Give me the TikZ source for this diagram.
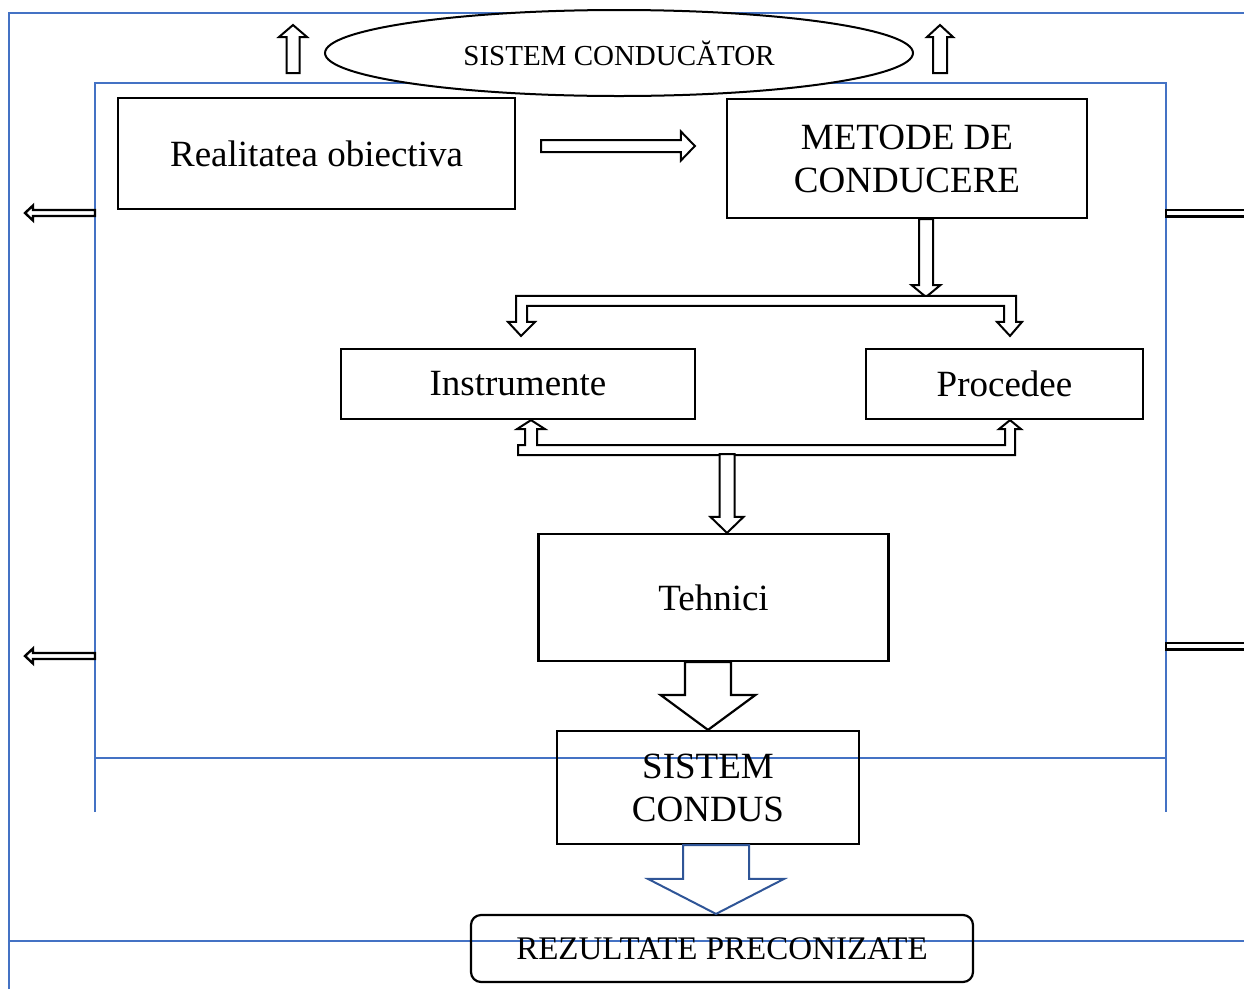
\documentclass[tikz,border=0pt]{standalone}
\usepackage{fontspec}
\setmainfont{Liberation Serif}
\usepackage{xcolor}
\usepackage{tikz}
\usetikzlibrary{calc, shapes.geometric}

\definecolor{frameblue}{HTML}{4472C4}
\definecolor{arrowblue}{HTML}{2F5597}

\newcommand{\blockarrow}[6][]{%
  \coordinate (ba_head) at ($(#3)!#6!(#2)$);
  \draw[#1] ($(#2)!#4!90:(#3)$) -- ($(ba_head)!#4!-90:(#2)$) -- ($(ba_head)!#5!-90:(#2)$)
    -- (#3) -- ($(ba_head)!#5!90:(#2)$) -- ($(ba_head)!#4!90:(#2)$) -- ($(#2)!#4!-90:(#3)$) -- cycle;
}

\begin{document}
\begin{tikzpicture}[x=1pt, y=-1pt]
            \tikzset{
                box_node/.style={draw, shape = rectangle, line width=2.2pt, inner sep=0pt, align=center, font=\fontsize{37}{43}\selectfont},
                oval_node/.style={draw, shape = ellipse, line width=2pt, fill=white, inner sep=0pt, font=\fontsize{29}{34}\selectfont},
                end_node/.style={box_node, rounded corners=10pt, font=\fontsize{33}{38}\selectfont},
                frame_line/.style={draw=frameblue, line width=1.4pt},
                hollow_arrow/.style={draw, line width=2pt, fill=white},
                blue_arrow/.style={draw=arrowblue, line width=2pt, fill=white}
            }
            \useasboundingbox (0,0) rectangle (1244,989);
            \draw[frame_line] (9,989) |- (1244,13);
            \draw[frame_line] (10,941) -- (1244,941);
            \draw[frame_line] (95,812) |- (1166,83) -- (1166,812);
            \draw[frame_line] (95,758) -- (1166,758);
            \node[oval_node, minimum width=588pt, minimum height=86pt] (cond) at (619,53) {SISTEM CONDUCĂTOR};
            \node[box_node, minimum width=397pt, minimum height=111pt] (real) at (316.5,153.5) {Realitatea obiectiva};
            \node[box_node, minimum width=360pt, minimum height=119pt] (metode) at (907,158.5) {METODE DE\\CONDUCERE};
            \node[box_node, minimum width=354pt, minimum height=70pt] (instr) at (518,384) {Instrumente};
            \node[box_node, minimum width=277pt, minimum height=70pt] (proc) at (1004.5,384) {Procedee};
            \node[box_node, minimum width=350pt, minimum height=127pt] (tehn) at (713.5,597.5) {Tehnici};
            \node[box_node, minimum width=302pt, minimum height=113pt] (condus) at (708,787.5) {SISTEM\\CONDUS};
            \node[end_node, minimum width=502pt, minimum height=67pt] (rez) at (722,948.5) {REZULTATE PRECONIZATE};
            \coordinate (upl_s) at (293,73);
            \coordinate (upl_e) at (293,25);
            \coordinate (upr_s) at (940,73);
            \coordinate (upr_e) at (940,25);
            \coordinate (ra_s) at ($(real.east)+(25,-7.5)$);
            \coordinate (ra_e) at ($(metode.west)+(-31,-12.5)$);
            \coordinate (ma_s) at ($(metode.south)+(19,0)$);
            \coordinate (split) at (926,297);
            \coordinate (ltip) at ($(instr.north)+(3,-12)$);
            \coordinate (lbase) at ($(instr.south)+(13,0)$);
            \coordinate (join) at (727,454);
            \coordinate (ta_e) at ($(tehn.north)+(13.5,0)$);
            \coordinate (tc_s) at ($(tehn.south)+(-5.5,0)$);
            \coordinate (cr_s) at ($(condus.south)+(8,0)$);
            \coordinate (cr_e) at ($(rez.north)+(-6,0)$);
            \coordinate (la1_s) at (95,213);
            \coordinate (la1_e) at (25,213);
            \coordinate (la2_s) at (95,656);
            \coordinate (la2_e) at (25,656);
            \blockarrow[hollow_arrow]{upl_s}{upl_e}{6.5pt}{14pt}{12pt}
            \blockarrow[hollow_arrow]{upr_s}{upr_e}{7pt}{13pt}{12pt}
            \blockarrow[hollow_arrow]{ra_s}{ra_e}{6pt}{14.5pt}{14pt}
            \blockarrow[hollow_arrow]{ma_s}{split}{7pt}{14.5pt}{12pt}
            \draw[hollow_arrow] (ltip) -- ++(14,-14) -- ++(-8,0) -- ++(0,-16) -- ++(477,0) -- ++(0,16) -- ++(-7,0) -- ++(13,14)
                -- ++(12,-14) -- ++(-6,0) -- ++(0,-26) -- ++(-500,0) -- ++(0,26) -- ++(-8,0) -- cycle;
            \draw[hollow_arrow] (lbase) -- ++(14,9) -- ++(-8,0) -- ++(0,16) -- ++(468,0) -- ++(0,-16) -- ++(-6,0) -- ++(11,-9)
                -- ++(11,9) -- ++(-6,0) -- ++(0,26) -- ++(-497,0) -- ++(0,-10) -- ++(7,0) -- ++(0,-16) -- ++(-8,0) -- cycle;
            \blockarrow[hollow_arrow]{join}{ta_e}{7.5pt}{16.5pt}{16pt}
            \blockarrow[hollow_arrow, line width=2.2pt]{tc_s}{condus.north}{23pt}{47.5pt}{35pt}
            \blockarrow[blue_arrow]{cr_s}{cr_e}{33pt}{68pt}{35pt}
            \blockarrow[hollow_arrow, line width=2.4pt]{la1_s}{la1_e}{3pt}{7.5pt}{8pt}
            \blockarrow[hollow_arrow, line width=2.4pt]{la2_s}{la2_e}{3pt}{7.5pt}{8pt}
            \draw[line width=2.4pt] (1244,210) -- (1166,210) -- (1166,216.5) -- (1244,216.5);
            \draw[line width=2.4pt] (1244,643) -- (1166,643) -- (1166,649.5) -- (1244,649.5);
        \end{tikzpicture}
\end{document}
